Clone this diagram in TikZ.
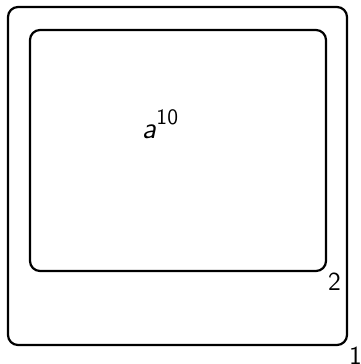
\documentclass[tikz,border=0pt]{standalone}
\usepackage{tikz}
\usetikzlibrary{positioning}
\tikzset{
  frame/.style={draw, line width=1.1pt, rounded corners=5pt, inner sep=0pt},
  tag/.style={font=\sffamily\fontsize{13}{15}\selectfont, inner sep=0.3pt},
  expr/.style={font=\sffamily\fontsize{15}{17}\selectfont, inner sep=0pt}
}
\begin{document}
\begin{tikzpicture}[x=0.5pt,y=-0.5pt]
  \useasboundingbox (0,0) rectangle (360,364);

  % outer and inner boxes
  \node[frame, minimum width=169.5pt, minimum height=169pt,
        label={[tag, anchor=north west]south east:1}] (outer) at (177.5,176) {};
  \node[frame, minimum width=148pt, minimum height=120.5pt,
        label={[tag, anchor=north west]south east:2}] (inner) at (178,150.5) {};

  % term
  \node[expr] (term) at (160,124) {\textit{a}\raisebox{0.45em}{\fontsize{11}{13}\selectfont 10}};
\end{tikzpicture}
\end{document}
